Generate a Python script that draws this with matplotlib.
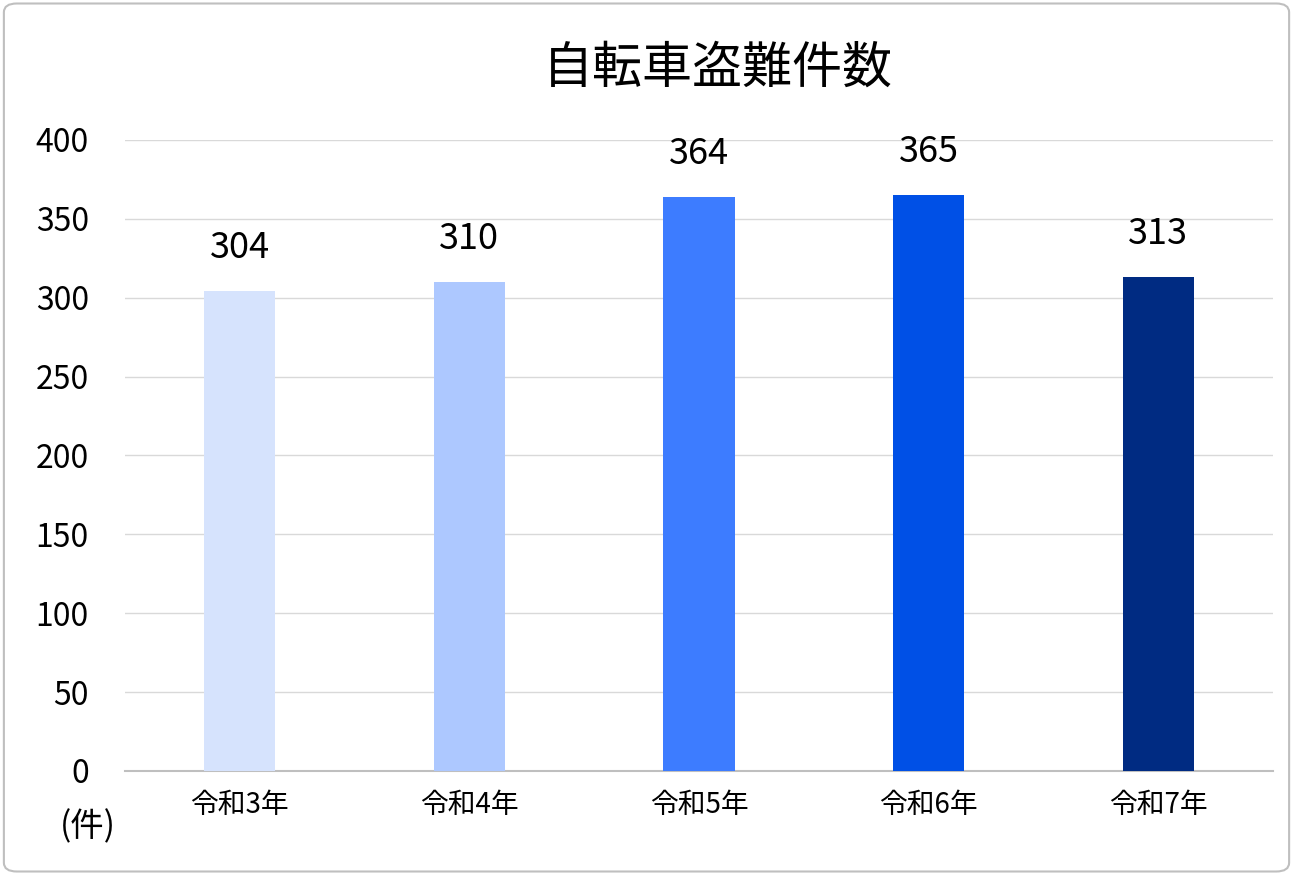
import matplotlib
matplotlib.use("Agg")
import matplotlib.pyplot as plt
from matplotlib.patches import FancyBboxPatch

plt.rcParams['font.family'] = ['Noto Sans CJK JP', 'DejaVu Sans']

categories = ["令和3年", "令和4年", "令和5年", "令和6年", "令和7年"]
values = [304, 310, 364, 365, 313]
colors = ["#D6E3FD", "#ADC8FF", "#3D7CFF", "#0050E6", "#002B82"]
yticks = [0, 50, 100, 150, 200, 250, 300, 350, 400]

fig = plt.figure(figsize=(12.93, 8.75), dpi=100)
fig.patches.append(FancyBboxPatch((0.003, 0.004), 0.994, 0.992, boxstyle="round,pad=0,rounding_size=0.01",
                                  transform=fig.transFigure, fill=False, edgecolor="#BFBFBF", linewidth=1.5))
ax = fig.add_axes([0.0967, 0.1189, 0.8878, 0.7211])
x = range(len(categories))
ax.bar(x, values, width=0.31, color=colors, zorder=3)
for i, v in zip(x, values):
    ax.text(i, v + 16, str(v), ha='center', va='bottom', fontsize=26)
ax.set_xlim(-0.5, 4.5)
ax.set_ylim(0, 400)
ax.set_yticks(yticks)
ax.set_yticklabels([str(t) for t in yticks], fontsize=23)
ax.set_xticks(list(x))
ax.set_xticklabels(categories, fontsize=20)
ax.tick_params(axis='x', length=0, pad=14)
ax.tick_params(axis='y', length=0, pad=26)
ax.grid(axis='y', color="#D9D9D9", linewidth=1, zorder=0)
for s in ['top', 'right', 'left']:
    ax.spines[s].set_visible(False)
ax.spines['bottom'].set_color("#BFBFBF")
ax.spines['bottom'].set_linewidth(1.5)
fig.text(0.555, 0.922, "自転車盗難件数", ha='center', va='center', fontsize=36)
fig.text(0.068, 0.055, "(件)", ha='center', va='center', fontsize=24)
fig.savefig("out.png", dpi=100)
